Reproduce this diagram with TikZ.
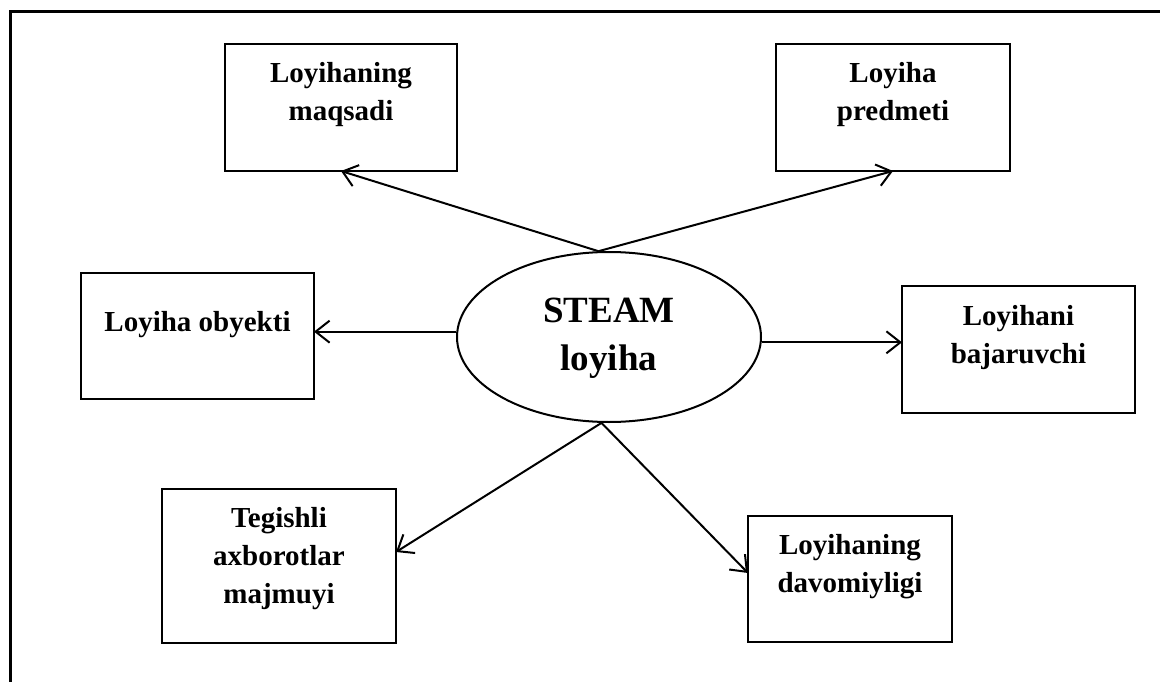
\documentclass[tikz,border=0pt]{standalone}
\usepackage{fontspec}
\setmainfont{Liberation Serif}
\usetikzlibrary{arrows.meta,shapes.geometric}
\def\matn#1{\begin{tabular}[t]{@{}c@{}}#1\end{tabular}}

\begin{document}
\begin{tikzpicture}[x=1pt, y=-1pt,
		blok/.style={draw, line width=2.5pt, inner sep=0pt, outer sep=0pt, anchor=north, text height=39pt, text depth=88pt, font=\fontsize{29}{38}\selectfont\bfseries},
		strelka/.style={line width=2pt, -{Straight Barb[length=14pt, width=22pt]}}]
			%%%%% START %%%%%
			
			\useasboundingbox (0, 0) rectangle (1160, 682);
			\draw[line width=3pt] (10, 682) -- (10, 12) -- (1160, 12);
			
			\node[ellipse, draw, line width=2pt, inner sep=0pt, minimum width=304pt, minimum height=170pt, text height=20pt, text depth=50pt, font=\fontsize{37}{48}\selectfont\bfseries] (steam) at (609, 337) {\matn{STEAM\\loyiha}};
			
			\node[blok, minimum width=232pt] (maqsad) at (341, 44) {\matn{Loyihaning\\maqsadi}};
			\node[blok, minimum width=234pt] (predmet) at (893, 44) {\matn{Loyiha\\predmeti}};
			\node[blok, minimum width=233pt, text height=58pt, text depth=68pt] (obyekt) at (197.5, 273) {\matn{Loyiha obyekti}};
			\node[blok, minimum width=233pt] (bajaruvchi) at (1018.5, 286) {\matn{Loyihani\\bajaruvchi}};
			\node[blok, minimum width=234pt, text height=38pt, text depth=116pt] (axborot) at (279, 489) {\matn{Tegishli\\axborotlar\\majmuyi}};
			\node[blok, minimum width=204pt, text height=38pt, text depth=88pt] (davomiylik) at (850, 516) {\matn{Loyihaning\\davomiyligi}};
			
			\draw[strelka] (steam.97) -- (maqsad.south);
			\draw[strelka] (steam.97) -- (predmet.south);
			\draw[strelka] (steam.178) -- (steam.178 -| obyekt.east);
			\draw[strelka] (steam.358) -- (steam.358 -| bajaruvchi.west);
			\draw[strelka] (steam.265) -- ([yshift=14pt]axborot.east);
			\draw[strelka] (steam.265) -- ([yshift=6pt]davomiylik.west);
			
			%%%%% END %%%%%
		\end{tikzpicture}
\end{document}
